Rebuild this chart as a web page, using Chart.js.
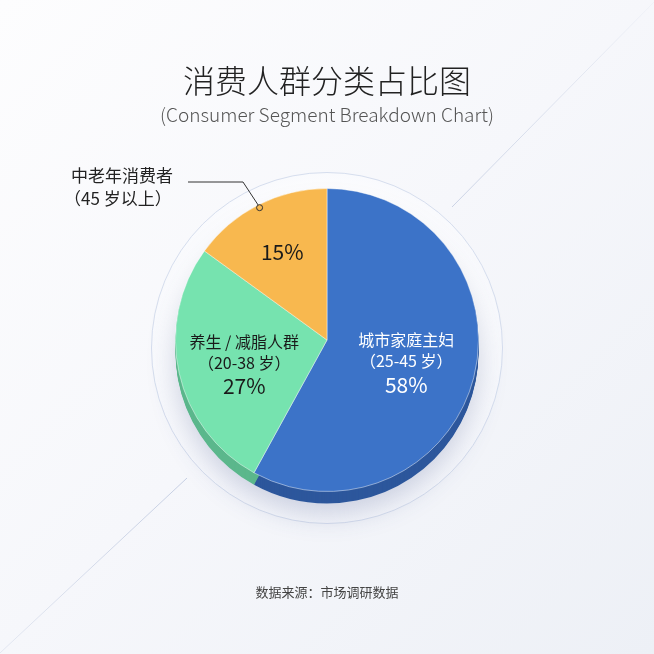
<!DOCTYPE html>
<html>
<head>
<meta charset="utf-8">
<script src="https://cdn.jsdelivr.net/npm/chart.js@4"></script>
<style>
html,body{margin:0;padding:0;background:#f4f6fa;}
#wrap{width:654px;height:654px;}
</style>
</head>
<body>
<div id="wrap"><canvas id="c" width="654" height="654"></canvas></div>
<script>
const categories = ['城市家庭主妇', '养生 / 减脂人群', '中老年消费者'];
const ageRanges = ['（25-45 岁）', '（20-38 岁）', '（45 岁以上）'];
const shares = [58, 27, 15];
const titleText = '消费人群分类占比图';
const subtitleText = '(Consumer Segment Breakdown Chart)';
const sourceText = '数据来源：市场调研数据';

const topColors = ['#3c73c8', '#76e3af', '#f8b84f'];
const sideColors = ['#2d579c', '#5bb78c', '#d99a3a'];
const FONT = '"Noto Sans CJK SC", "Noto Sans", sans-serif';
const DEPTH = 12;

const decoPlugin = {
  id: 'deco',
  beforeDraw(chart) {
    const ctx = chart.ctx;
    const W = chart.width, H = chart.height;
    ctx.save();
    const g = ctx.createLinearGradient(0, 0, W, H);
    g.addColorStop(0, '#fdfdfe');
    g.addColorStop(0.5, '#f6f7fb');
    g.addColorStop(1, '#edf0f6');
    ctx.fillStyle = g;
    ctx.fillRect(0, 0, W, H);
    // decorative diagonal lines
    ctx.lineWidth = 1;
    let lg = ctx.createLinearGradient(452, 207, 654, 2);
    lg.addColorStop(0, 'rgba(185,196,220,0.7)');
    lg.addColorStop(1, 'rgba(185,196,220,0.1)');
    ctx.strokeStyle = lg;
    ctx.beginPath(); ctx.moveTo(452, 207); ctx.lineTo(654, 2); ctx.stroke();
    lg = ctx.createLinearGradient(187, 478, 0, 653);
    lg.addColorStop(0, 'rgba(185,196,220,0.8)');
    lg.addColorStop(1, 'rgba(185,196,220,0.3)');
    ctx.strokeStyle = lg;
    ctx.beginPath(); ctx.moveTo(187, 478); ctx.lineTo(0, 653); ctx.stroke();
    // ring around the pie
    const meta = chart.getDatasetMeta(0);
    const a = meta.data[0];
    if (a) {
      const cx = a.x, cy = a.y + 8, R = a.outerRadius + 24;
      const rg = ctx.createRadialGradient(cx, cy, a.outerRadius, cx, cy, R);
      rg.addColorStop(0, 'rgba(255,255,255,0.9)');
      rg.addColorStop(1, 'rgba(250,251,254,0.6)');
      ctx.fillStyle = rg;
      ctx.beginPath(); ctx.arc(cx, cy, R, 0, Math.PI * 2); ctx.fill();
      ctx.strokeStyle = '#d6deee';
      ctx.lineWidth = 1;
      ctx.stroke();
    }
    // titles
    ctx.textAlign = 'center';
    ctx.textBaseline = 'middle';
    ctx.fillStyle = '#222';
    ctx.font = '300 32px ' + FONT;
    ctx.fillText(titleText, W / 2, 81);
    ctx.fillStyle = '#555';
    ctx.font = '300 19px ' + FONT;
    ctx.fillText(subtitleText, W / 2, 115);
    ctx.fillStyle = '#444';
    ctx.font = '400 13px ' + FONT;
    ctx.fillText(sourceText, W / 2, 592);
    ctx.restore();
  },
  beforeDatasetsDraw(chart) {
    const ctx = chart.ctx;
    const meta = chart.getDatasetMeta(0);
    ctx.save();
    const a0 = meta.data[0];
    // soft shadow
    ctx.shadowColor = 'rgba(60,80,140,0.28)';
    ctx.shadowBlur = 28;
    ctx.shadowOffsetY = 10;
    ctx.fillStyle = '#dfe5f0';
    ctx.beginPath();
    ctx.arc(a0.x, a0.y + DEPTH, a0.outerRadius, 0, Math.PI * 2);
    ctx.fill();
    ctx.shadowColor = 'transparent';
    // extrusion
    meta.data.forEach((arc, i) => {
      ctx.fillStyle = sideColors[i];
      for (let d = DEPTH; d >= 1; d--) {
        ctx.beginPath();
        ctx.moveTo(arc.x, arc.y + d);
        ctx.arc(arc.x, arc.y + d, arc.outerRadius, arc.startAngle, arc.endAngle);
        ctx.closePath();
        ctx.fill();
      }
    });
    ctx.restore();
  },
  afterDatasetsDraw(chart) {
    const ctx = chart.ctx;
    const meta = chart.getDatasetMeta(0);
    ctx.save();
    ctx.textAlign = 'center';
    ctx.textBaseline = 'middle';
    const fracs = [0.54, 0.56, 0.65];
    const dy = [0, 3, 0];
    meta.data.forEach((arc, i) => {
      const mid = (arc.startAngle + arc.endAngle) / 2;
      const r = arc.outerRadius * fracs[i];
      const x = arc.x + Math.cos(mid) * r;
      const y = arc.y + Math.sin(mid) * r + dy[i];
      const pct = shares[i] + '%';
      if (i === 2) {
        ctx.fillStyle = '#1a1a1a';
        ctx.font = '400 21px ' + FONT;
        ctx.fillText(pct, x, y);
        // leader to outside label
        const ax = arc.x + Math.cos(mid) * (arc.outerRadius - 3);
        const ay = arc.y + Math.sin(mid) * (arc.outerRadius - 3);
        ctx.strokeStyle = '#333';
        ctx.lineWidth = 1;
        ctx.beginPath();
        ctx.moveTo(ax - 1, ay - 2);
        ctx.lineTo(243, 182);
        ctx.lineTo(188, 182);
        ctx.stroke();
        ctx.fillStyle = '#f8b84f';
        ctx.beginPath(); ctx.arc(ax, ay, 3, 0, Math.PI * 2); ctx.fill(); ctx.stroke();
        ctx.textAlign = 'left';
        ctx.fillStyle = '#222';
        ctx.font = '400 17px ' + FONT;
        ctx.fillText(categories[i], 71, 176);
        ctx.fillText(ageRanges[i], 64, 199);
        ctx.textAlign = 'center';
      } else {
        const col = i === 0 ? '#ffffff' : '#1a1a1a';
        ctx.fillStyle = col;
        ctx.font = '400 16px ' + FONT;
        ctx.fillText(categories[i], x, y - 20);
        ctx.fillText(ageRanges[i], x, y + 1);
        ctx.font = '400 21px ' + FONT;
        ctx.fillText(pct, x, y + 25);
      }
    });
    ctx.restore();
  }
};

new Chart(document.getElementById('c'), {
  type: 'pie',
  data: {
    labels: categories,
    datasets: [{
      data: shares,
      backgroundColor: topColors,
      borderColor: 'rgba(255,255,255,0.45)',
      borderWidth: 1
    }]
  },
  options: {
    responsive: false,
    animation: false,
    layout: { padding: { left: 175, right: 175, top: 188, bottom: 162 } },
    plugins: {
      legend: { display: false },
      tooltip: { enabled: false },
      title: { display: false }
    }
  },
  plugins: [decoPlugin]
});
</script>
</body>
</html>
